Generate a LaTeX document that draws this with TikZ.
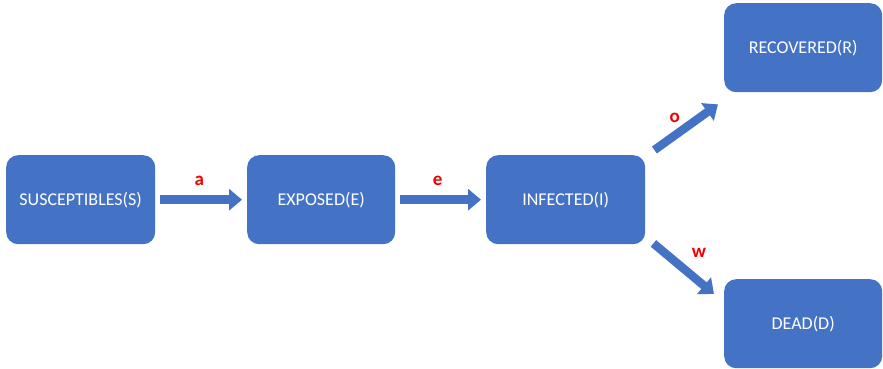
\documentclass[tikz,border=0pt]{standalone}
\usepackage{fontspec}
\setmainfont{Carlito}
\usetikzlibrary{matrix}
\usetikzlibrary{arrows.meta}
\usetikzlibrary{positioning}
\definecolor{boxblue}{RGB}{68,114,196}
\definecolor{ratered}{RGB}{240,0,0}
\tikzset{
  stage/.style={fill=boxblue, text=white, rounded corners=12pt,
    minimum height=89pt, inner sep=0pt,
    font=\fontsize{18}{21}\selectfont},
  blockarrow/.style={draw=boxblue, color=boxblue, line width=8.5pt,
    -{Triangle[length=13pt 0 0,width=21pt 0 0,fill=boxblue]}},
  rate/.style={text=ratered, inner sep=0pt,
    font=\fontsize{19}{22}\selectfont\bfseries}
}
\begin{document}
\begin{tikzpicture}[x=1pt,y=-1pt]
    \useasboundingbox (0,0) rectangle (883,369);
    \matrix[matrix of nodes, anchor=north west, inner sep=0pt,
    nodes={stage}, row sep=35pt, column sep=79pt] at (6,3)
    {
      &[13pt] &[12pt] &|[name=R,minimum width=158pt]| RECOVERED(R) \\[28pt]
      |[name=S,minimum width=149pt]| SUSCEPTIBLES(S) &[13pt]
      |[name=E,minimum width=148pt]| EXPOSED(E) &[12pt]
      |[name=I,minimum width=159pt]| INFECTED(I) & \\
      &[13pt] &[12pt] &|[name=D,minimum width=158pt]| DEAD(D) \\
    };
    \path[shorten <=5pt,shorten >=5pt]
          (S) edge[blockarrow] node[rate,above=10pt,xshift=-2pt] {a} (E)
          (E) edge[blockarrow] node[rate,above=10pt,xshift=-3pt] {e} (I);
    \path
          ([xshift=9pt,yshift=5pt]I.north east) edge[blockarrow]
            node[rate,above left=0pt and 2pt] {o}
          ([xshift=-6pt,yshift=-12pt]R.south west)
          ([xshift=8pt,yshift=1pt]I.south east) edge[blockarrow]
            node[rate,above right=7pt and 4pt] {w}
          ([xshift=-10pt,yshift=-15pt]D.north west);
\end{tikzpicture}
\end{document}
